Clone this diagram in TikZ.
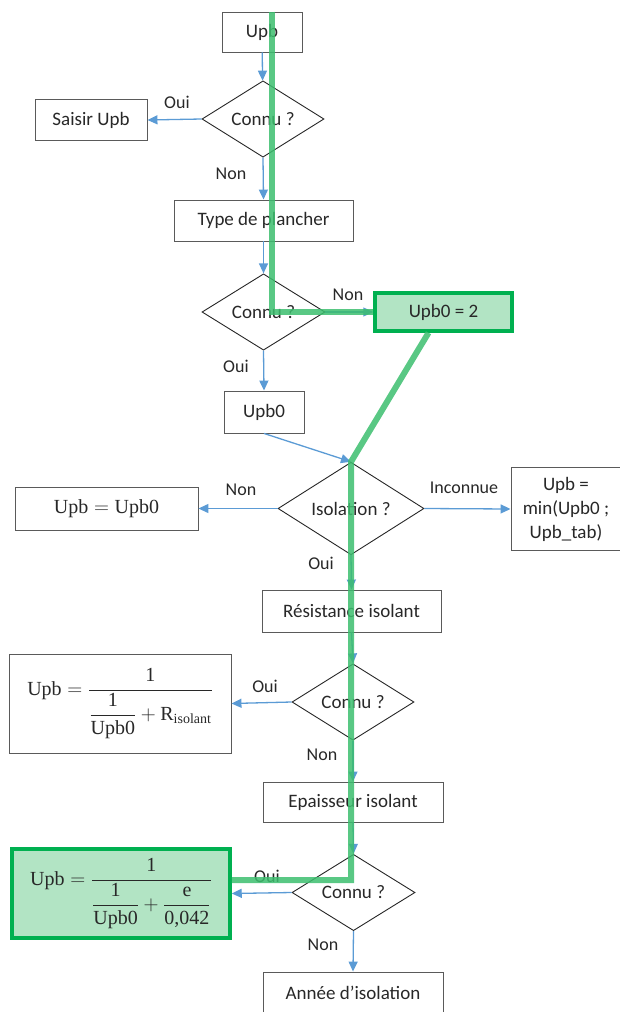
\documentclass[tikz,border=0pt]{standalone}
\usepackage{amsmath}
\usepackage[no-math]{fontspec}
\setmainfont{Carlito}
\newfontfamily\mserif{Liberation Serif}
\newcommand{\mt}[1]{\text{\mserif #1}}
\usetikzlibrary{shapes.geometric,arrows.meta,calc}
\definecolor{arrowblue}{RGB}{91,155,213}
\definecolor{txt}{RGB}{40,40,40}
\definecolor{hlgreen}{RGB}{60,190,110}
\definecolor{gfill}{RGB}{178,228,196}
\definecolor{gborder}{RGB}{0,176,80}
\definecolor{boxline}{RGB}{90,90,90}
\begin{document}
\begin{tikzpicture}[x=1pt,y=-1pt,
  font=\fontsize{19}{24}\selectfont, text=txt,
  box/.style={draw=boxline, line width=0.9pt, fill=white, inner sep=0pt, align=center},
  gbox/.style={box, fill=gfill, draw=gborder, line width=3.5pt},
  dia/.style={diamond, draw=black!85, line width=0.9pt, inner sep=0pt, minimum width=122pt, minimum height=72pt},
  arr/.style={draw=arrowblue, line width=1.3pt, -{Triangle[length=10pt,width=9pt]}},
  lab/.style={font=\fontsize{18}{20}\selectfont},
  mathtxt/.style={font=\fontsize{20}{24}\selectfont},
  hl/.style={draw=hlgreen, line width=6pt, opacity=0.85}]
\useasboundingbox (0,0) rectangle (619,1012);
% nodes
\node[box, minimum width=80pt, minimum height=40pt] (upb) at (262,32) {Upb};
\node[dia] (d1) at (263,119) {Connu ?};
\node[box, minimum width=112pt, minimum height=41pt] (saisir) at (91,120) {Saisir Upb};
\node[box, minimum width=179pt, minimum height=41pt] (type) at (263.5,220.5) {Type de plancher};
\node[dia, minimum width=123pt] (d2) at (263.5,312) {Connu ?};
\node[gbox, minimum width=137pt, minimum height=38pt] (upb02) at (443.5,312) {Upb0 = 2};
\node[box, minimum width=80pt, minimum height=42pt] (upb0) at (264,412) {Upb0};
\node[dia, minimum width=146pt, minimum height=73pt] (iso) at (351,508.5) {Isolation ?};
\node[box, mathtxt, minimum width=183pt, minimum height=43pt] (upbeq) at (106.5,508.5) {$\mt{Upb}=\mt{Upb0}$};
\node[box, minimum width=114pt, minimum height=83pt] (minb) at (568,509) {};
\node[align=center, inner sep=0pt] (mintxt) at (566,509) {Upb =\\min(Upb0 ;\\Upb\_tab)};
\node[box, minimum width=179pt, minimum height=42pt] (res) at (351.5,611) {Résistance isolant};
\node[box, mathtxt, minimum width=222pt, minimum height=99pt] (form1) at (120,703.5)
  {$\mt{Upb}=\dfrac{\mt{1}}{\dfrac{\mt{1}}{\mt{Upb0}}+\mt{R}_{\mt{isolant}}}$};
\node[dia] (d3) at (353,702) {Connu ?};
\node[box, minimum width=180pt, minimum height=40pt] (ep) at (353,802) {Epaisseur isolant};
\node[dia, minimum width=123pt, minimum height=71pt] (d4) at (353.5,892.5) {Connu ?};
\node[gbox, mathtxt, minimum width=218pt, minimum height=89pt] (form2) at (121,893.5)
  {$\mt{Upb}=\dfrac{\mt{1}}{\dfrac{\mt{1}}{\mt{Upb0}}+\dfrac{\mt{e}}{\mt{0,042}}}$};
\node[box, minimum width=180pt, minimum height=41pt] (annee) at (353,992.5) {Année d’isolation};
% labels
\node[lab] (l1) at (177,102) {Oui};
\node[lab] (l2) at (231,174) {Non};
\node[lab] (l3) at (348,295) {Non};
\node[lab] (l4) at (236,366) {Oui};
\node[lab] (l5) at (241,490) {Non};
\node[lab] (l6) at (464,488) {Inconnue};
\node[lab] (l7) at (321,563) {Oui};
\node[lab] (l8) at (265,686) {Oui};
\node[lab] (l9) at (322,755) {Non};
\node[lab] (l10) at (267,876) {Oui};
\node[lab] (l11) at (323,945) {Non};
% arrows
\draw[arr] (upb) -- (d1);
\draw[arr] (d1.west) -- (saisir.east);
\draw[arr] (d1.south) -- (type.north);
\draw[arr] (type.south) -- (d2.north);
\draw[arr] (d2.east) -- (upb02.west);
\draw[arr] (d2.south) -- (upb0.north);
\draw[arr] (upb0.south) -- (iso.north);
\draw[arr] (iso.west) -- (upbeq.east);
\draw[arr] (iso.east) -- (minb.west);
\draw[arr] (iso.south) -- (res.north);
\draw[arr] (res.south) -- (d3.north);
\draw[arr] (d3.west) -- (form1.east);
\draw[arr] (d3.south) -- (ep.north);
\draw[arr] (ep.south) -- (d4.north);
\draw[arr] (d4.west) -- (form2.east);
\draw[arr] (d4.south) -- (annee.north);
% highlight path
\coordinate (gc) at (350,880);
\draw[hl] ([xshift=10pt]upb.north) -- ([xshift=10pt]upb.north |- d2) -- (upb02.west);
\draw[hl] ([xshift=-15pt]upb02.south) -- (iso.north) -- (iso.north |- gc) -- (form2.east |- gc);
\end{tikzpicture}
\end{document}
